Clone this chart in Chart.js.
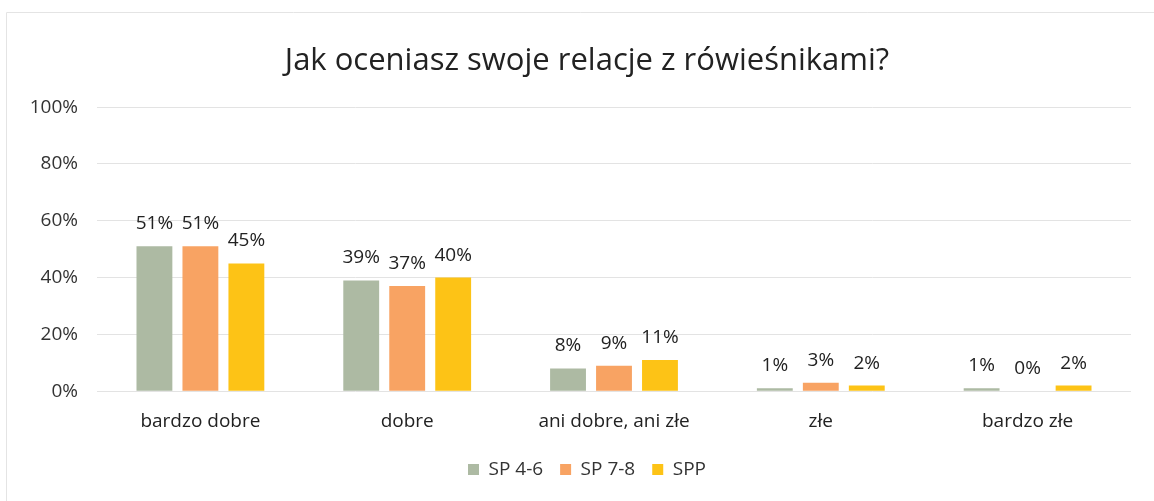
<!DOCTYPE html>
<html>
<head>
<meta charset="utf-8">
<script src="https://cdn.jsdelivr.net/npm/chart.js@4.4.1/dist/chart.umd.min.js"></script>
<style>
  html, body { margin: 0; padding: 0; background: #fff; }
  #wrap { width: 1154px; height: 501px; position: relative; }
</style>
</head>
<body>
<div id="wrap"><canvas id="c" width="1154" height="501"></canvas></div>
<script>
// Survey answers: "How do you rate your relations with peers?"
const categories = ['bardzo dobre', 'dobre', 'ani dobre, ani złe', 'złe', 'bardzo złe'];
const seriesNames = ['SP 4-6', 'SP 7-8', 'SPP'];
const sp46 = [51, 39, 8, 1, 1];
const sp78 = [51, 37, 9, 3, 0];
const spp  = [45, 40, 11, 2, 2];
const yTicks = [0, 20, 40, 60, 80, 100];

const FONT = '"Open Sans", "Noto Sans", sans-serif';
const colors = ['#ADBAA3', '#F8A363', '#FDC316'];

// Draws the percentage above each bar
const valueLabels = {
  id: 'valueLabels',
  afterDatasetsDraw(chart) {
    const ctx = chart.ctx;
    ctx.save();
    ctx.font = '19px ' + FONT;
    ctx.fillStyle = '#222';
    ctx.textAlign = 'center';
    ctx.textBaseline = 'alphabetic';
    chart.data.datasets.forEach((ds, di) => {
      chart.getDatasetMeta(di).data.forEach((bar, i) => {
        ctx.fillText(ds.data[i] + '%', bar.x, bar.y - 17);
      });
    });
    ctx.restore();
  }
};

// Thin frame around the chart
const frame = {
  id: 'frame',
  beforeDraw(chart) {
    const ctx = chart.ctx;
    ctx.save();
    ctx.strokeStyle = '#e4e4e4';
    ctx.lineWidth = 1;
    ctx.beginPath();
    ctx.moveTo(6.5, 501);
    ctx.lineTo(6.5, 12.5);
    ctx.lineTo(1154, 12.5);
    ctx.stroke();
    ctx.restore();
  }
};

new Chart(document.getElementById('c'), {
  type: 'bar',
  data: {
    labels: categories,
    datasets: [
      { label: seriesNames[0], data: sp46, backgroundColor: colors[0] },
      { label: seriesNames[1], data: sp78, backgroundColor: colors[1] },
      { label: seriesNames[2], data: spp,  backgroundColor: colors[2] }
    ]
  },
  options: {
    responsive: false,
    animation: false,
    categoryPercentage: 0.667,
    barPercentage: 0.78,
    layout: { padding: { left: 20, right: 0, top: 0, bottom: 12 } },
    plugins: {
      title: {
        display: true,
        text: 'Jak oceniasz swoje relacje z rówieśnikami?',
        color: '#222',
        font: { family: FONT, size: 31, weight: 'normal' },
        padding: { top: 43, bottom: 27 }
      },
      legend: {
        position: 'bottom',
        labels: {
          color: '#333',
          font: { family: FONT, size: 19 },
          boxWidth: 11,
          boxHeight: 11,
          padding: 17
        }
      },
      tooltip: { enabled: false }
    },
    scales: {
      x: {
        grid: { display: false },
        border: { display: false },
        afterFit(scale) { scale.height -= 1; },
        ticks: { color: '#222', font: { family: FONT, size: 19 }, padding: 11 }
      },
      y: {
        min: 0,
        max: 100,
        afterBuildTicks(scale) { scale.ticks = yTicks.map(v => ({ value: v })); },
        afterFit(scale) { scale.width = 77; },
        grid: { color: '#e3e3e3', drawTicks: false },
        border: { display: false },
        ticks: {
          color: '#333',
          font: { family: FONT, size: 19 },
          padding: 19,
          callback: v => v + '%'
        }
      },
      // empty right-hand margin beside the plot
      yRight: {
        position: 'right',
        display: true,
        grid: { display: false, drawTicks: false },
        border: { display: false },
        ticks: { display: false },
        afterFit(scale) { scale.width = 23; }
      }
    }
  },
  plugins: [valueLabels, frame]
});
</script>
</body>
</html>
